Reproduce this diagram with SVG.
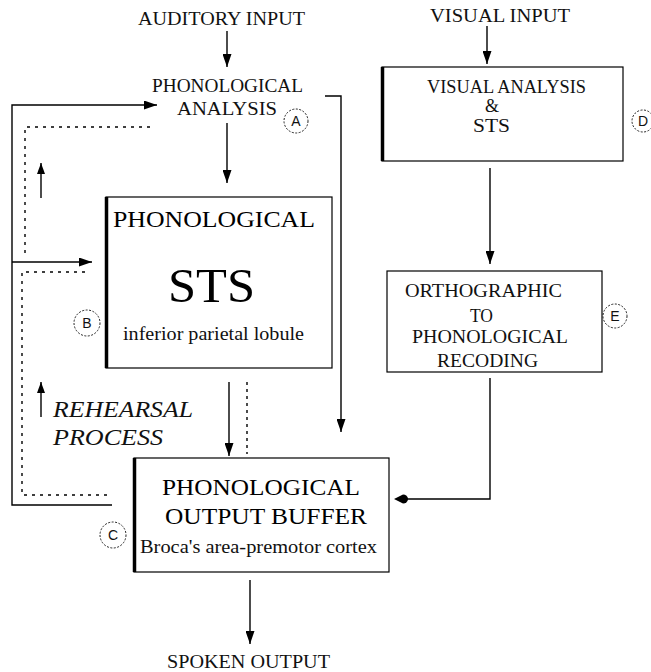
<svg xmlns="http://www.w3.org/2000/svg" width="651" height="672" viewBox="0 0 651 672">
<defs>
<marker id="ah" markerUnits="userSpaceOnUse" markerWidth="13" markerHeight="9" refX="13" refY="4.5" orient="auto">
<path d="M0,0 L13,4.5 L0,9 Z" fill="#000"/>
</marker>
<marker id="ahs" markerUnits="userSpaceOnUse" markerWidth="11" markerHeight="8" refX="11" refY="4" orient="auto">
<path d="M0,0 L11,4 L0,8 Z" fill="#000"/>
</marker>
</defs>
<style>
text{font-family:"Liberation Serif","DejaVu Serif","Times New Roman",serif;}
.lbl{font-size:18px;fill:#111;}
.lbl19{font-size:19px;fill:#111;}
.big{font-size:24px;fill:#000;}
.huge{font-size:48px;fill:#000;}
.ital{font-size:23px;font-style:italic;fill:#111;}
.tag{font-family:"Liberation Sans","DejaVu Sans",Arial,sans-serif;font-size:14px;fill:#111;text-anchor:middle;}
.ring{fill:none;stroke:#222;stroke-width:1;stroke-dasharray:2 1.5;}
.box{fill:#fff;stroke:#000;stroke-width:1.2;}
.edge{stroke:#000;stroke-width:3.5;}
.conn{fill:none;stroke:#000;stroke-width:1.4;}
.dash{fill:none;stroke:#000;stroke-width:1.4;stroke-dasharray:3 5;}
.dot{fill:none;stroke:#000;stroke-width:1.4;stroke-dasharray:3 4;}
</style>
<rect width="651" height="672" fill="#fff"/>

<g id="connectors">
<line class="conn" x1="227" y1="31" x2="227" y2="67" marker-end="url(#ah)"/>
<line class="conn" x1="227" y1="123" x2="227" y2="183" marker-end="url(#ah)"/>
<polyline class="conn" points="325,96 341,96 341,432" marker-end="url(#ah)"/>
<line class="conn" x1="229" y1="382" x2="229" y2="456" marker-end="url(#ah)"/>
<line class="dot" x1="247" y1="382" x2="247" y2="454"/>
<polyline class="conn" points="112,505 12,505 12,105 157,105" marker-end="url(#ah)"/>
<line class="conn" x1="12" y1="262" x2="92" y2="262" marker-end="url(#ah)"/>
<polyline class="dash" points="150,127 25,127 25,255"/>
<polyline class="dash" points="85,272 22,272 22,495 110,495"/>
<line class="conn" x1="41" y1="198" x2="41" y2="163" marker-end="url(#ahs)"/>
<line class="conn" x1="41" y1="417" x2="41" y2="382" marker-end="url(#ahs)"/>
<line class="conn" x1="487" y1="26" x2="487" y2="64" marker-end="url(#ah)"/>
<line class="conn" x1="490" y1="168" x2="490" y2="264" marker-end="url(#ah)"/>
<polyline class="conn" points="490,378 490,499 404,499"/>
<path d="M394,499 L403,494.5 A5,4.5 0 1 1 403,503.5 Z" fill="#000"/>
<line class="conn" x1="250" y1="580" x2="250" y2="644" marker-end="url(#ah)"/>
</g>

<g id="auditory-input">
<text class="lbl" x="138" y="25" textLength="167" lengthAdjust="spacingAndGlyphs">AUDITORY INPUT</text>
</g>

<g id="phonological-analysis">
<text class="lbl" x="152" y="92" textLength="151" lengthAdjust="spacingAndGlyphs">PHONOLOGICAL</text>
<text class="lbl" x="177" y="115" textLength="100" lengthAdjust="spacingAndGlyphs">ANALYSIS</text>
<circle class="ring" cx="296" cy="121" r="12"/>
<text class="tag" x="296" y="126">A</text>
</g>

<g id="phonological-sts">
<rect class="box" x="106" y="197" width="226" height="171"/>
<line class="edge" x1="106.5" y1="197" x2="106.5" y2="368"/>
<text class="big" x="113" y="227" textLength="202" lengthAdjust="spacingAndGlyphs">PHONOLOGICAL</text>
<text class="huge" x="168" y="302" textLength="87" lengthAdjust="spacingAndGlyphs">STS</text>
<text class="lbl19" x="123" y="340" textLength="181" lengthAdjust="spacingAndGlyphs">inferior parietal lobule</text>
<circle class="ring" cx="87" cy="323" r="13"/>
<text class="tag" x="87" y="328">B</text>
</g>

<g id="rehearsal-label">
<text class="ital" x="53" y="417" textLength="140" lengthAdjust="spacingAndGlyphs">REHEARSAL</text>
<text class="ital" x="53" y="445" textLength="110" lengthAdjust="spacingAndGlyphs">PROCESS</text>
</g>

<g id="output-buffer">
<rect class="box" x="134" y="458" width="255" height="114"/>
<line class="edge" x1="134.5" y1="458" x2="134.5" y2="572"/>
<text class="big" x="162" y="495" textLength="198" lengthAdjust="spacingAndGlyphs">PHONOLOGICAL</text>
<text class="big" x="165" y="524" textLength="202" lengthAdjust="spacingAndGlyphs">OUTPUT BUFFER</text>
<text class="lbl19" x="140" y="553" textLength="237" lengthAdjust="spacingAndGlyphs">Broca's area-premotor cortex</text>
<circle class="ring" cx="113" cy="535" r="13"/>
<text class="tag" x="113" y="540">C</text>
</g>

<g id="spoken-output">
<text class="lbl" x="167" y="668" textLength="163" lengthAdjust="spacingAndGlyphs">SPOKEN OUTPUT</text>
</g>

<g id="visual-input">
<text class="lbl" x="430" y="22" textLength="140" lengthAdjust="spacingAndGlyphs">VISUAL INPUT</text>
</g>

<g id="visual-analysis">
<rect class="box" x="382" y="67" width="241" height="94"/>
<line class="edge" x1="382.5" y1="67" x2="382.5" y2="161"/>
<text class="lbl" x="427" y="93" textLength="159" lengthAdjust="spacingAndGlyphs">VISUAL ANALYSIS</text>
<text class="lbl" x="492" y="112" font-size="16" text-anchor="middle">&amp;</text>
<text class="lbl" x="473" y="132" textLength="37" lengthAdjust="spacingAndGlyphs">STS</text>
<circle class="ring" cx="643" cy="121" r="11"/>
<text class="tag" x="643" y="126">D</text>
</g>

<g id="orthographic-recoding">
<rect class="box" x="387" y="271" width="215" height="101"/>
<text class="lbl" x="405" y="297" textLength="157" lengthAdjust="spacingAndGlyphs">ORTHOGRAPHIC</text>
<text class="lbl" x="470" y="322" textLength="23" lengthAdjust="spacingAndGlyphs">TO</text>
<text class="lbl" x="412" y="343" textLength="156" lengthAdjust="spacingAndGlyphs">PHONOLOGICAL</text>
<text class="lbl" x="437" y="367" textLength="101" lengthAdjust="spacingAndGlyphs">RECODING</text>
<circle class="ring" cx="615" cy="316" r="12"/>
<text class="tag" x="615" y="321">E</text>
</g>
</svg>
